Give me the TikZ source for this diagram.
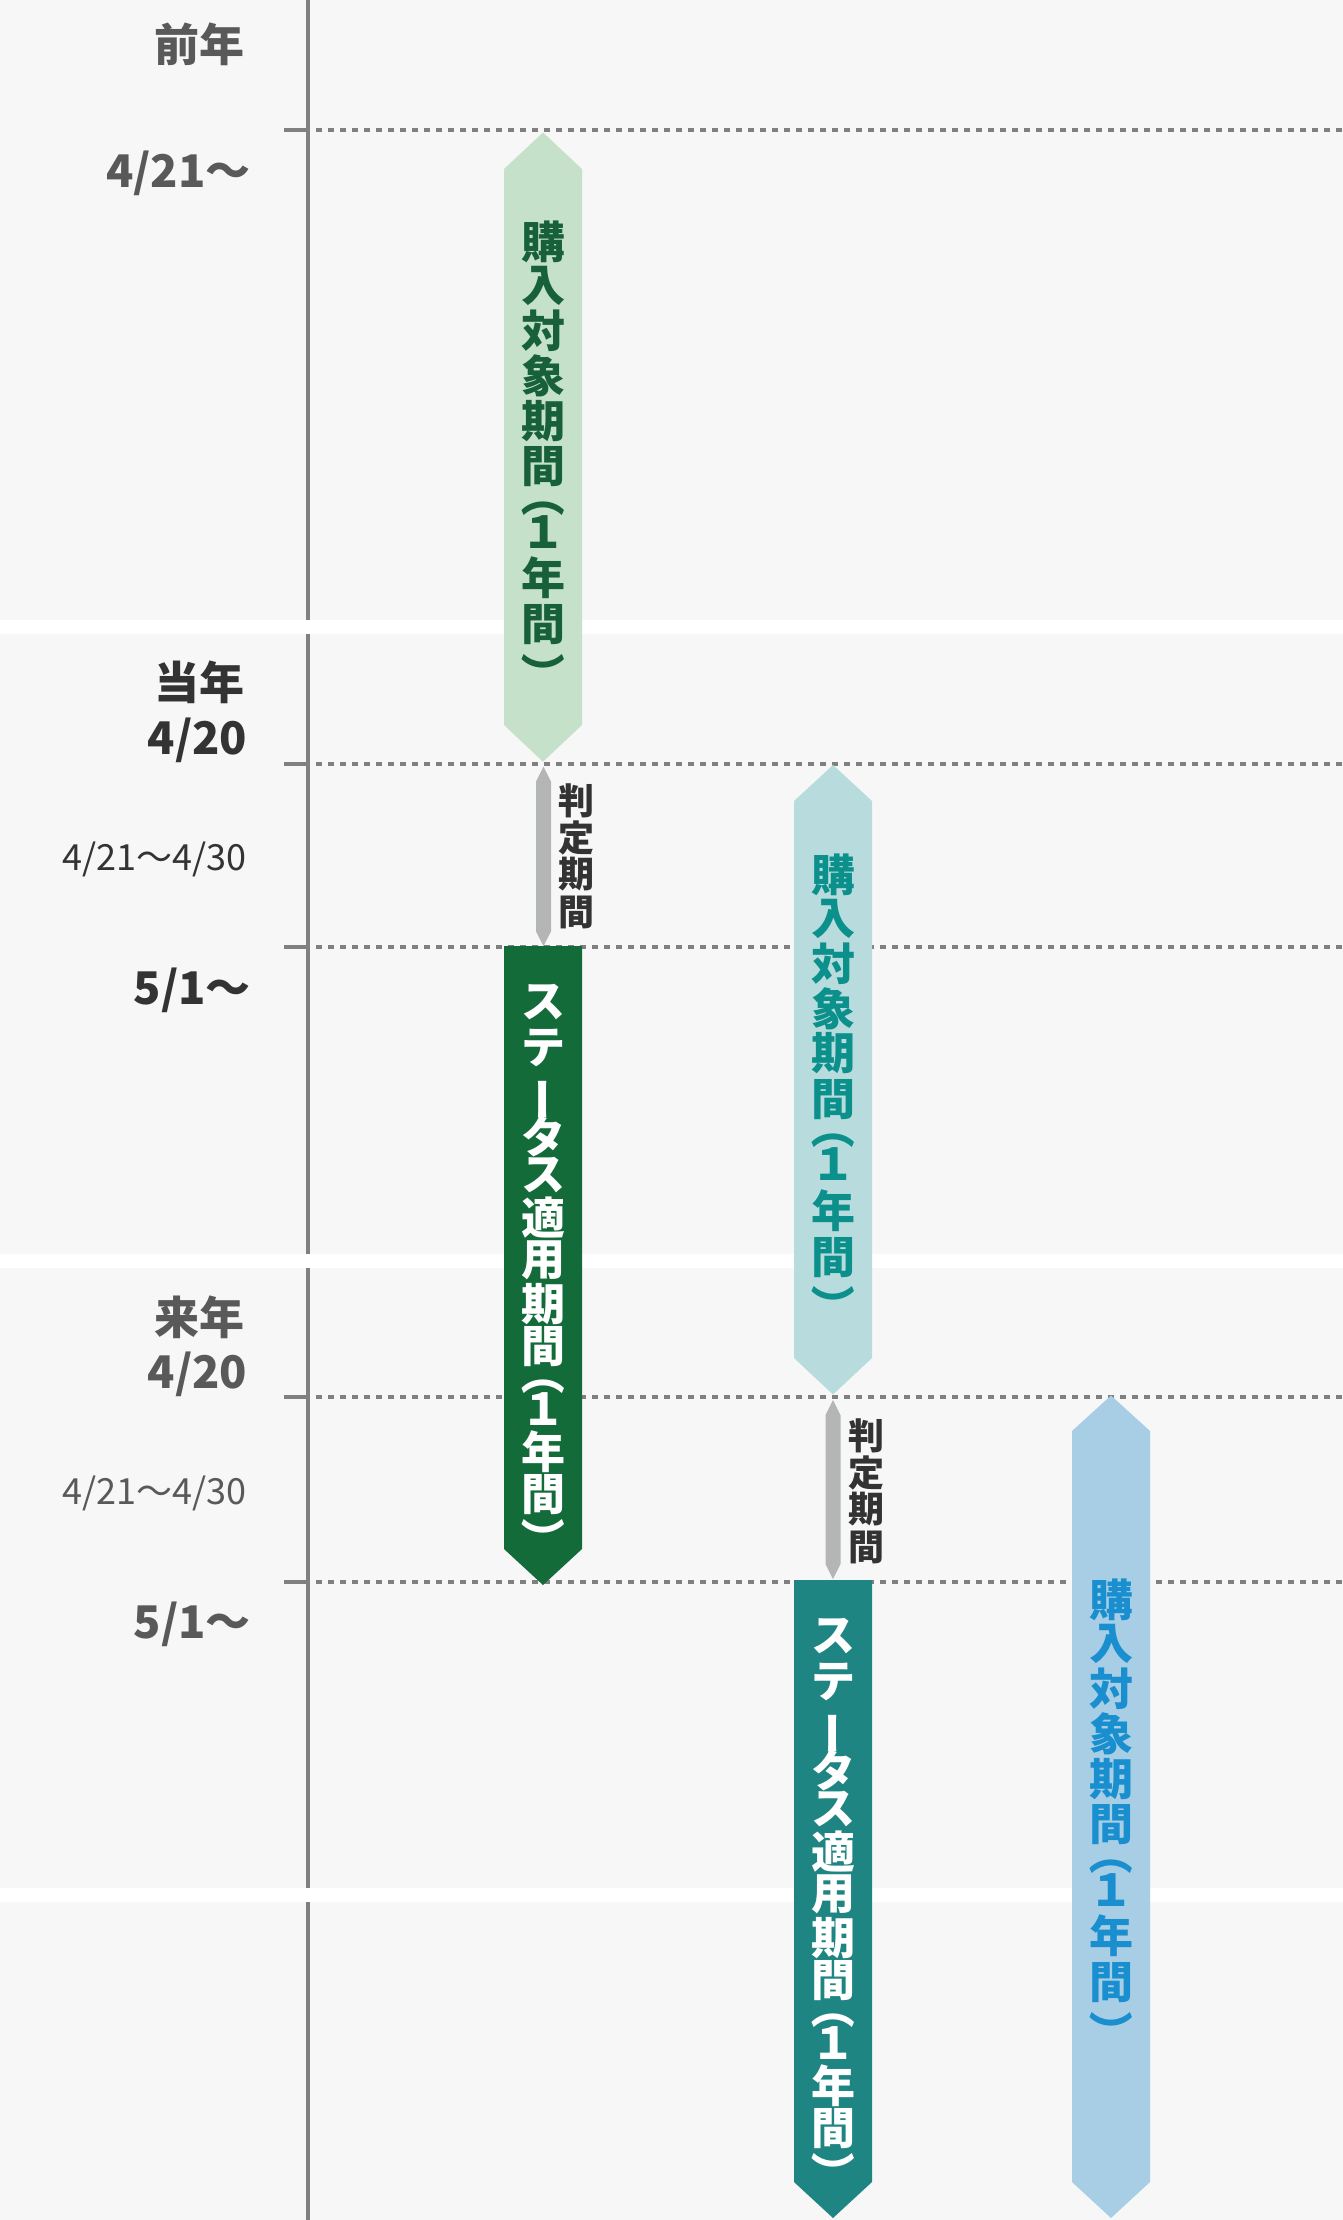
\documentclass[tikz,border=0pt]{standalone}
\usepackage{fontspec}
\newfontfamily\jp{Noto Sans CJK JP}
\definecolor{bggray}{HTML}{F7F7F7}
\definecolor{linegray}{HTML}{808080}
\definecolor{arrowgray}{HTML}{B4B5B5}
\definecolor{lgreen}{HTML}{C6E1CA}
\definecolor{lgreentext}{HTML}{17603A}
\definecolor{dgreen}{HTML}{136B3A}
\definecolor{lteal}{HTML}{B8DCDD}
\definecolor{ltealtext}{HTML}{0B908B}
\definecolor{dteal}{HTML}{1E8583}
\definecolor{lblue}{HTML}{A8CEE5}
\definecolor{lbluetext}{HTML}{1A8FCF}
\definecolor{txtdark}{HTML}{333333}
\definecolor{txtgray}{HTML}{595959}
\begin{document}
\begin{tikzpicture}[x=1pt,y=-1pt,
  axisline/.style={draw=linegray,line width=4pt},
  tickline/.style={draw=linegray,line width=4pt},
  gridline/.style={draw=linegray,line width=4pt,dash pattern=on 6pt off 6pt},
  lbl/.style={font=\jp\bfseries\fontsize{45}{45}\selectfont,inner sep=0pt},
  lblsm/.style={font=\jp\fontsize{36}{36}\selectfont,inner sep=0pt},
  vch/.style={font=\jp\bfseries\fontsize{44}{44}\selectfont,inner sep=0pt},
  vchs/.style={font=\jp\bfseries\fontsize{36}{36}\selectfont,inner sep=0pt,text=txtdark},
  plainch/.style={},
  barch/.style={rotate=90,text height=38.72pt,text depth=5.28pt},
  parch/.style={rotate=-90,text height=38.72pt,text depth=5.28pt}
]
\useasboundingbox (0,0) rectangle (1343,2220);
\fill[white] (0,0) rectangle (1343,2220);
% bands
\fill[bggray] (0,0) rectangle (1343,620);
\fill[bggray] (0,634) rectangle (1343,1254);
\fill[bggray] (0,1268) rectangle (1343,1888);
\fill[bggray] (0,1902) rectangle (1343,2220);
% axis
\draw[axisline] (308,0) -- (308,620);
\draw[axisline] (308,634) -- (308,1254);
\draw[axisline] (308,1268) -- (308,1888);
\draw[axisline] (308,1902) -- (308,2220);
% ticks and grid lines
\foreach \yy in {130,764,947,1397,1582}{
  \draw[tickline] (284,\yy) -- (306,\yy);
  \draw[gridline] (316,\yy) -- (1343,\yy);
}
% arrows
\fill[lgreen] (543,132.5) -- (582,169) -- (582,725) -- (543,761.7) -- (504,725) -- (504,169) -- cycle;
\fill[arrowgray] (543.5,766.5) -- (551,781.5) -- (551,931.5) -- (543.5,946) -- (536,931.5) -- (536,781.5) -- cycle;
\fill[dgreen] (504,946) -- (582,946) -- (582,1549) -- (543,1585) -- (504,1549) -- cycle;
\fill[lteal] (833,765) -- (872,801) -- (872,1358) -- (833,1394.5) -- (794,1358) -- (794,801) -- cycle;
\fill[arrowgray] (833,1400) -- (840.5,1415) -- (840.5,1564) -- (833,1579) -- (825.5,1564) -- (825.5,1415) -- cycle;
\fill[dteal] (794,1580) -- (872,1580) -- (872,2182) -- (833,2218) -- (794,2182) -- cycle;
\fill[lblue] (1111,1395.5) -- (1150,1431) -- (1150,2182) -- (1111,2218) -- (1072,2182) -- (1072,1431) -- cycle;
% left labels
\node[lbl,text=txtgray,anchor=east] (prev) at (245,44.6) {前年};
\node[lbl,text=txtgray,anchor=base east] (d1) at (251,187.5) {4/21～};
\node[lbl,text=txtdark,anchor=east] (cur) at (245,682.6) {当年};
\node[lbl,text=txtdark,anchor=base east] (d2) at (247.5,754) {4/20};
\node[lblsm,text=txtdark,anchor=base east] (d3) at (246.5,870) {4/21～4/30};
\node[lbl,text=txtdark,anchor=base east] (d4) at (251,1004) {5/1～};
\node[lbl,text=txtgray,anchor=east] (next) at (245,1317) {来年};
\node[lbl,text=txtgray,anchor=base east] (d5) at (247.5,1388.4) {4/20};
\node[lblsm,text=txtgray,anchor=base east] (d6) at (246.5,1504.5) {4/21～4/30};
\node[lbl,text=txtgray,anchor=base east] (d7) at (251,1638) {5/1～};
% purchase period texts
\foreach \c/\d/\s [count=\i] in {購/0/plainch,入/44/plainch,対/89/plainch,象/134/plainch,期/179/plainch,間/225/plainch,（/253/parch,１/290/plainch,年/336/plainch,間/383/plainch,）/432/parch}{
  \node[vch,\s,text=lgreentext] (pa\i) at (543,{242+\d}) {\c};
  \node[vch,\s,text=ltealtext] (pb\i) at (833,{874.5+\d}) {\c};
  \node[vch,\s,text=lbluetext] (pc\i) at (1111,{1600+\d}) {\c};
}
% status period texts
\foreach \c/\d/\s [count=\i] in {ス/0/plainch,テ/46/plainch,ー/97/barch,タ/134/plainch,ス/173/plainch,適/216/plainch,用/258/plainch,期/302/plainch,間/345/plainch,（/371/parch,１/407/plainch,年/450/plainch,間/493/plainch,）/537/parch}{
  \node[vch,\s,text=white] (sa\i) at (543,{1002+\d}) {\c};
  \node[vch,\s,text=white] (sb\i) at (833,{1636+\d}) {\c};
}
% judgement period texts
\foreach \c/\d [count=\i] in {判/0,定/36.5,期/73,間/111}{
  \node[vchs] (ja\i) at (576.7,{801+\d}) {\c};
  \node[vchs] (jb\i) at (866,{1436+\d}) {\c};
}
\end{tikzpicture}
\end{document}
